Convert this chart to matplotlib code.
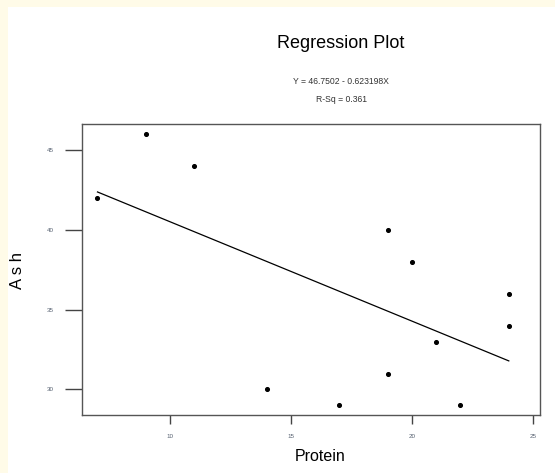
import matplotlib
matplotlib.use("Agg")
import matplotlib.pyplot as plt
import numpy as np
from matplotlib.patches import Rectangle

plt.rcParams['font.family'] = ['Liberation Sans', 'DejaVu Sans']

# Protein vs Ash observations
protein = [7, 9, 11, 14, 17, 19, 19, 20, 21, 22, 24, 24]
ash = [42, 46, 44, 30, 29, 40, 31, 38, 33, 29, 36, 34]

# fitted line Y = b0 + b1 X
b0 = 46.7502
b1 = -0.623198
r_sq = 0.361

fig = plt.figure(figsize=(5.55, 4.73), dpi=100)
fig.patch.set_facecolor('#fffbe8')
fig.add_artist(Rectangle((8 / 555, 0), 1, 1 - 7 / 473, transform=fig.transFigure,
                         facecolor='white', edgecolor='none', zorder=-5))

ax = fig.add_axes([82 / 555, 1 - 415 / 473, 458 / 555, 291 / 473])
ax.set_zorder(2)
ax.set_facecolor('white')

ax.scatter(protein, ash, s=7, color='black', zorder=3)
xs = np.array([min(protein), max(protein)])
ax.plot(xs, b0 + b1 * xs, color='black', lw=0.9)

ax.set_xlim(6.36, 25.29)
ax.set_ylim(28.4, 46.65)
ax.set_xticks([10, 15, 20, 25])
ax.set_yticks([30, 35, 40, 45])

for sp in ax.spines.values():
    sp.set_color('#555555')
    sp.set_linewidth(1.0)
ax.tick_params(direction='out', width=1.0, color='#444444',
               labelsize=4.5, labelcolor='#556070')
ax.tick_params(axis='x', length=6.5, pad=7.5)
ax.tick_params(axis='y', length=12, pad=8)

ax.set_xlabel('Protein', fontsize=11.5)
ax.xaxis.set_label_coords((320 - 82) / 458, (415 - 456) / 291)
ax.xaxis.label.set_va('center')
ax.set_ylabel('A s h', fontsize=12)
ax.yaxis.set_label_coords((18 - 82) / 458, (415 - 270) / 291)
ax.yaxis.label.set_va('center')

fig.text(341 / 555, 1 - 43 / 473, 'Regression Plot', ha='center', va='center', fontsize=13)
fig.text(341 / 555, 1 - 82 / 473, f'Y = {b0} - {-b1}X', ha='center', va='center', fontsize=6.2,
         color='#333333')
fig.text(341 / 555, 1 - 100 / 473, f'R-Sq = {r_sq}', ha='center', va='center', fontsize=6.2,
         color='#333333')

fig.savefig('out.png', dpi=100)
